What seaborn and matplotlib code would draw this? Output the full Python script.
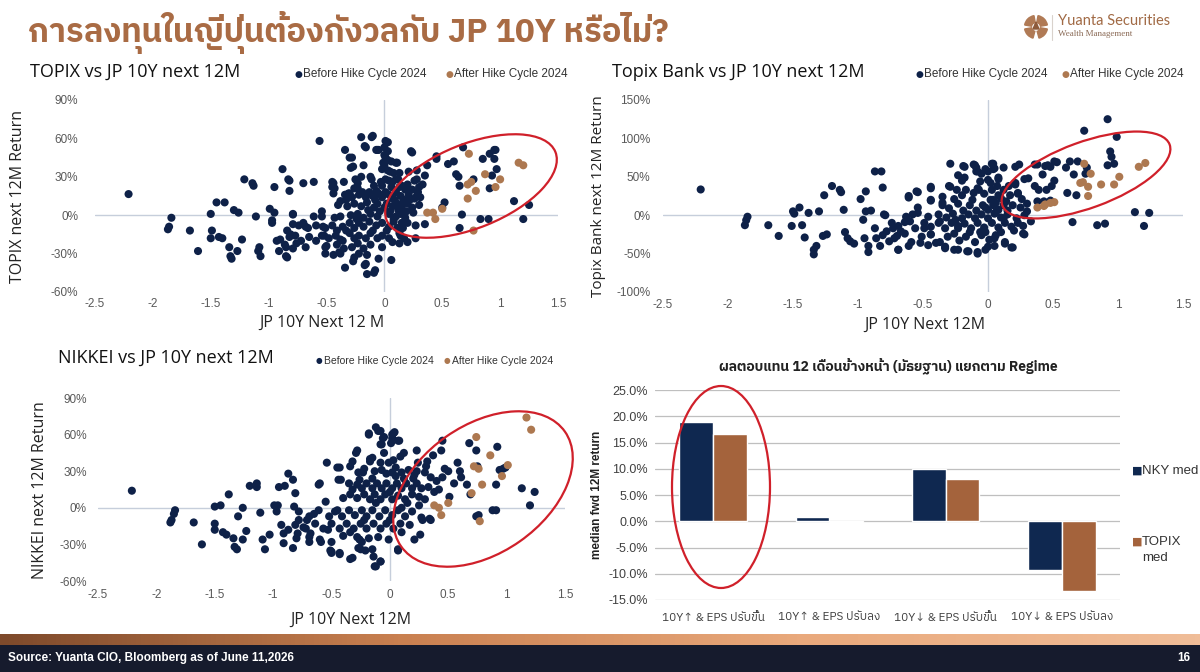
import pandas as pd
import matplotlib
matplotlib.use("Agg")
import matplotlib.pyplot as plt
import seaborn as sns
import numpy as np
from matplotlib import font_manager, ft2font
from matplotlib.patches import Ellipse, Wedge, Polygon

# ---- data (x = change in JP 10Y, y = next 12M return in %) ----
TOPIX_BEFORE = [
    (-2.21, 16.5), (-1.84, -2), (-1.86, -9), (-1.87, -11), (-1.68, -12), (-1.61, -28), (-1.50, 1), (-1.49, -12),
    (-1.50, -18), (-1.45, 10), (-1.38, 10), (-1.43, -17), (-1.40, -18), (-1.34, -25), (-1.33, -32), (-1.32, -34),
    (-1.30, 4), (-1.26, 2), (-1.27, -28), (-1.23, -19), (-1.21, 28), (-1.14, 25), (-1.13, 23), (-1.11, -1),
    (-1.08, -25), (-1.09, -28), (-1.07, -32), (-0.99, 5), (-0.97, -4), (-0.97, -6), (-0.95, 22), (-0.95, 2),
    (-0.93, -20), (-0.91, -28), (-0.90, -19), (-0.88, 36), (-0.85, -32), (-0.86, -23), (-0.83, 28), (-0.82, 19),
    (-0.81, -15), (-0.79, -7), (-0.79, 1), (-0.84, -12), (-0.76, -22), (-0.70, 25), (-0.70, -6), (-0.66, -10),
    (-0.61, 26), (-0.56, 58), (-0.54, 3), (-0.53, -9), (-0.52, -16), (-0.50, -24), (-0.45, 26), (-0.45, 22),
    (-0.44, 17), (-0.43, -2), (-0.39, -29), (-0.38, -19), (-0.35, 26), (-0.34, 51), (-0.34, -41), (-0.31, 17),
    (-0.30, 45), (-0.29, 37), (-0.27, -36), (-0.23, 21), (-0.20, 61), (-0.17, 54), (-0.16, -38), (-0.15, -46),
    (-0.11, 61), (-0.10, 62), (-0.09, -45), (-0.08, -43), (-0.07, 51), (-0.05, 51), (-0.01, 41), (0.01, 58),
    (0.03, 50), (0.06, -35), (0.10, 41), (0.23, 50), (0.28, 35), (0.28, 28), (0.35, 31), (0.37, 39),
    (0.45, 46), (0.45, 44), (0.55, 40), (0.60, 42), (0.62, 32), (0.64, 30), (0.68, 53), (0.65, 23),
    (0.67, 0.5), (0.65, -10), (0.77, 28), (0.85, 44), (0.90, -3), (0.91, 48), (0.95, 51), (0.95, 44),
    (0.96, 51), (0.97, 36), (0.93, 31), (0.91, 21), (1.12, 11), (1.20, -3), (1.25, 8), (0.83, -3),
    (0.52, 10), (0.50, 6), (0.35, -7), (0.27, -18), (0.20, -21), (0.14, -16),
    (-0.16, 53), (-0.06, 51), (0.03, 57), (0.00, 53), (-0.28, 45), (-0.27, 38), (0.00, 47), (0.01, 45),
    (0.03, 43), (0.06, 42), (0.11, 41), (0.24, 49), (-0.18, 39), (0.00, 39), (-0.02, 36), (0.03, 35),
    (0.05, 34), (0.13, 33), (0.21, 34), (-0.82, 27), (-0.44, 25), (-0.43, 21), (-0.25, 28), (-0.23, 25),
    (-0.26, 21), (-0.12, 30), (-0.11, 28), (-0.03, 26), (-0.02, 23), (0.01, 28), (0.04, 27), (0.07, 26),
    (0.10, 28), (0.15, 23), (0.20, 24), (0.26, 27), (0.30, 22), (0.33, 24), (-0.34, 16), (-0.33, 12),
    (-0.30, 17), (-0.28, 14), (-0.22, 16), (-0.19, 18), (-0.16, 14), (-0.13, 18), (-0.10, 15), (-0.07, 19),
    (-0.05, 17), (-0.02, 14), (0.01, 18), (0.04, 16), (0.07, 13), (0.10, 18), (0.14, 15), (0.17, 12),
    (0.21, 16), (0.26, 13), (0.29, 18), (0.31, 14), (-0.40, 8), (-0.38, 11), (-0.32, 7), (-0.26, 9),
    (-0.20, 7), (-0.15, 10), (-0.09, 6), (-0.06, 9), (0.00, 6), (0.02, 9), (0.07, 7), (0.11, 9),
    (0.15, 6), (0.20, 9), (0.24, 6), (-0.79, 0.5), (-0.61, -1), (-0.54, -1), (-0.38, -1), (-0.29, 0),
    (-0.23, 1), (-0.18, -2), (-0.12, 1), (-0.06, -1), (0.04, 1), (0.10, -1), (0.14, 1), (0.18, -2),
    (0.27, -8), (-0.74, -8), (-0.68, -9), (-0.59, -8), (-0.51, -10), (-0.45, -8), (-0.41, -12), (-0.36, -9),
    (-0.30, -6), (-0.26, -10), (-0.22, -6), (-0.18, -9), (-0.13, -5), (-0.07, -8), (-0.02, -6), (0.04, -9),
    (0.08, -5), (0.11, -10), (-0.82, -17), (-0.77, -16), (-0.72, -20), (-0.65, -17), (-0.59, -20), (-0.54, -16),
    (-0.48, -18), (-0.42, -16), (-0.36, -20), (-0.30, -14), (-0.26, -18), (-0.22, -16), (-0.16, -18), (-0.12, -14),
    (-0.06, -18), (-0.02, -16), (0.04, -18), (0.13, -14), (0.17, -18), (-0.85, -25), (-0.79, -26), (-0.68, -25),
    (-0.51, -25), (-0.41, -23), (-0.35, -26), (-0.28, -25), (-0.23, -22), (-0.18, -26), (-0.12, -23), (-0.02, -25),
    (0.07, -21), (0.13, -22), (-0.84, -33), (-0.51, -30), (-0.44, -31), (-0.38, -30), (-0.26, -33), (-0.22, -30),
    (-0.15, -31), (-0.17, -39), (-0.05, -34), (0.12, 4), (0.16, 10), (0.19, 3), (0.22, 12), (0.24, 20),
    (0.18, 20), (0.13, 22), (0.09, 12), (0.05, 3), (0.08, -3), (0.20, -6), (0.25, 2), (0.30, 8),
    (0.28, 15), (0.16, -10), (-0.04, 3), (-0.08, 12), (0.06, 22), (-0.14, 4), (-0.24, -3), (-0.10, -12),
    (0.02, -12), (-0.33, -12), (0.12, 28), (-0.09, 23), (0.08, 33), (-0.20, 30), (0.15, -6),
]
TOPIX_AFTER = [
    (0.37, 2), (0.42, 2), (0.44, -3), (0.50, 5), (0.73, 48), (0.72, 13), (0.72, 24), (0.75, 26),
    (0.77, -12), (0.79, 19), (0.87, 32), (0.96, 22), (1.00, 28), (1.16, 41), (1.20, 39),
]

BANK_BEFORE = [
    (-2.21, 33.5), (-1.85, -2), (-1.86, -6.5), (-1.87, -13), (-1.69, -13), (-1.61, -27), (-1.50, 5), (-1.49, 2),
    (-1.51, -14), (-1.45, 10), (-1.43, -13), (-1.41, -29), (-1.38, 3), (-1.34, -45), (-1.34, -51), (-1.32, -40),
    (-1.30, 5), (-1.27, -27), (-1.24, -25), (-1.26, 26), (-1.20, 38), (-1.14, 33), (-1.13, 30), (-1.11, 7),
    (-1.10, -22), (-1.08, -30), (-1.06, -34), (-1.03, -37), (-0.98, 21), (-0.94, 31), (-0.96, -6), (-0.95, -30),
    (-0.92, -40), (-0.92, -48), (-0.94, 5), (-0.90, 6), (-0.87, -17), (-0.87, 57), (-0.82, 57), (-0.86, -30),
    (-0.83, -40), (-0.81, 36), (-0.80, 1), (-0.78, -21), (-0.76, -34), (-0.73, -17), (-0.70, -27), (-0.69, -45),
    (-0.67, -21), (-0.64, -9), (-0.61, 25), (-0.61, -40), (-0.58, 1), (-0.55, 31), (-0.54, 10), (-0.52, -36),
    (-0.49, -17), (-0.44, 37), (-0.44, 19), (-0.44, -25), (-0.40, -36), (-0.37, -8), (-0.35, 16), (-0.33, -43),
    (-0.30, 38), (-0.29, 67), (-0.26, 21), (-0.26, -45), (-0.23, -14), (-0.20, 45), (-0.19, 64), (-0.16, -47),
    (-0.11, 66), (-0.09, 57), (-0.08, -48), (-0.07, 33), (-0.02, -45), (0.03, 67), (0.04, 60), (0.00, 57),
    (0.05, -40), (0.08, 49), (0.13, -37), (0.19, -42), (0.21, 63), (0.21, 40), (0.23, 28), (0.27, -24),
    (0.30, 5), (0.31, 48), (0.33, -8), (0.36, 66), (0.38, 18), (0.39, 33), (0.42, 53), (0.43, 18),
    (0.46, 65), (0.48, 19), (0.49, 38), (0.51, 70), (0.51, 45), (0.48, 63), (0.60, 62), (0.61, 29),
    (0.63, 70), (0.65, -9), (0.68, 26), (0.66, 53), (0.69, 70), (0.74, 110), (0.84, -13), (0.90, -11),
    (0.92, 125), (0.94, 83), (0.95, 76), (0.92, 65), (0.97, 67), (0.99, 102), (1.13, 4), (1.20, -14),
    (1.24, 3), (0.76, 62), (0.75, 54),
    (-0.18, 63), (-0.10, 65), (-0.09, 62), (-0.08, 57), (-0.02, 60), (0.04, 67), (0.05, 61), (0.12, 62),
    (0.24, 66), (0.38, 66), (0.44, 64), (0.53, 69), (-0.23, 52), (-0.18, 49), (-0.05, 54), (0.00, 46),
    (0.08, 47), (0.16, 38), (0.21, 42), (0.28, 47), (0.36, 38), (0.45, 33), (-0.44, 35), (-0.54, 30),
    (-0.61, 23), (-0.44, 20), (-0.35, 24), (-0.29, 37), (-0.24, 33), (-0.20, 26), (-0.17, 33), (-0.11, 29),
    (-0.08, 35), (-0.03, 28), (0.03, 33), (0.08, 26), (0.12, 33), (0.17, 26), (0.23, 29), (0.26, 21),
    (0.04, 20), (-0.35, 13), (-0.30, 9), (-0.23, 15), (-0.19, 6), (-0.14, 13), (-0.09, 6), (-0.04, 13),
    (0.00, 7), (0.04, 13), (0.08, 7), (0.12, 13), (0.15, 6), (0.19, 13), (-0.79, 0), (-0.63, -2),
    (-0.54, 3), (-0.46, -2), (-0.38, 1), (-0.32, -3), (-0.27, 2), (-0.20, -4), (-0.15, 1), (-0.10, -4),
    (-0.05, 1), (0.00, -4), (0.05, 2), (0.10, -3), (0.15, 1), (0.22, -4), (0.28, 0), (-0.74, -10),
    (-0.69, -14), (-0.60, -8), (-0.56, -17), (-0.49, -10), (-0.44, -15), (-0.38, -10), (-0.33, -17), (-0.28, -10),
    (-0.23, -17), (-0.18, -11), (-0.13, -17), (-0.08, -10), (-0.03, -16), (0.03, -10), (0.08, -16), (0.13, -10),
    (0.18, -15), (0.23, -10), (0.28, -25), (-0.81, -26), (-0.72, -30), (-0.64, -24), (-0.59, -35), (-0.51, -28),
    (-0.44, -25), (-0.37, -35), (-0.31, -28), (-0.26, -24), (-0.22, -33), (-0.17, -28), (-0.10, -35), (-0.05, -26),
    (0.01, -32), (0.06, -26), (0.13, -35), (-0.69, -45), (-0.46, -39), (-0.33, -41), (-0.23, -45), (-0.15, -47),
    (-0.08, -50), (0.00, -41), (0.18, -42), (0.02, 20), (0.06, 16), (0.10, 22), (0.14, 18), (0.07, 38),
    (0.02, 42), (-0.06, 44), (0.10, -22), (-0.02, -22), (0.05, -30), (-0.14, -22), (0.20, -20), (0.25, 10),
    (0.30, 15), (0.27, -14), (-0.12, 20), (-0.02, 10), (0.06, 4), (-0.25, -6), (0.12, -4), (-0.06, -22),
]
BANK_AFTER = [
    (0.38, 10), (0.43, 12), (0.44, 14), (0.48, 16), (0.51, 17), (0.71, 42), (0.73, 43), (0.74, 67),
    (0.77, 25), (0.77, 37), (0.79, 54), (0.87, 40), (0.97, 40), (1.01, 50), (1.16, 63), (1.21, 68),
]

NIKKEI_BEFORE = [
    (-2.21, 14), (-1.84, -2), (-1.85, -5), (-1.87, -10), (-1.88, -12), (-1.68, -12), (-1.61, -30), (-1.50, 1),
    (-1.50, -13), (-1.50, -18), (-1.45, 2), (-1.38, 11), (-1.43, -20), (-1.40, -22), (-1.34, -25), (-1.33, -32),
    (-1.31, -34), (-1.30, -7), (-1.26, 0), (-1.26, -26), (-1.23, -19), (-1.20, 18), (-1.14, 20), (-1.14, 17),
    (-1.11, -4), (-1.09, -26), (-1.07, -34), (-1.03, -22), (-0.99, 2), (-0.97, -3), (-0.96, 2), (-0.95, 17),
    (-0.90, 18), (-0.93, -14), (-0.91, -21), (-0.91, -29), (-0.87, 28), (-0.87, -18), (-0.83, -33), (-0.83, 23),
    (-0.81, 12), (-0.82, 1), (-0.79, -21), (-0.78, -10), (-0.74, -16), (-0.71, -10), (-0.69, -28), (-0.68, -21),
    (-0.65, -5), (-0.61, 19), (-0.59, -28), (-0.54, 37), (-0.55, 5), (-0.53, -18), (-0.51, -35), (-0.50, -37),
    (-0.45, 33), (-0.44, 23), (-0.43, -37), (-0.45, -2), (-0.34, 34), (-0.34, -42), (-0.29, 45), (-0.26, 23),
    (-0.26, -26), (-0.25, -34), (-0.23, 29), (-0.21, -35), (-0.17, 40), (-0.18, 60), (-0.15, 24), (-0.13, -48),
    (-0.12, 66), (-0.10, 63), (-0.08, -44), (-0.08, 52), (-0.06, 57), (0.02, 57), (0.03, 61), (0.08, 55),
    (0.00, 13), (0.07, -35), (0.12, 45), (0.21, -26), (0.21, 27), (0.23, 47), (0.26, -22), (0.28, -10),
    (0.31, 34), (0.35, -10), (0.37, 43), (0.38, 13), (0.44, 47), (0.45, 55), (0.47, 32), (0.51, 9),
    (0.58, 37), (0.61, 25), (0.66, 19), (0.68, 53), (0.74, 47), (0.75, 34), (0.76, -6), (0.74, -7),
    (0.69, 11), (0.88, -2), (0.91, -2), (0.92, 50), (0.91, 19), (0.94, 31), (0.97, 32), (0.99, 33),
    (1.13, 16), (1.20, 2), (1.24, 13),
    (-0.18, 61), (-0.08, 63), (-0.05, 58), (0.02, 60), (0.04, 62), (0.07, 55), (0.01, 53), (-0.07, 52),
    (-0.28, 47), (-0.15, 41), (-0.17, 38), (-0.08, 37), (-0.01, 37), (0.03, 39), (0.09, 42), (0.05, 33),
    (-0.43, 33), (-0.32, 38), (-0.27, 29), (-0.22, 32), (-0.13, 30), (-0.07, 31), (-0.03, 28), (0.02, 29),
    (0.10, 29), (0.16, 31), (0.23, 30), (0.30, 29), (0.24, 37), (0.32, 38), (-0.35, 20), (-0.32, 15),
    (-0.28, 19), (-0.24, 16), (-0.20, 20), (-0.15, 16), (-0.11, 20), (-0.07, 16), (-0.03, 20), (0.02, 16),
    (0.06, 20), (0.10, 16), (0.14, 20), (0.19, 16), (0.23, 20), (0.27, 16), (0.33, 17), (-0.42, 23),
    (-0.60, 20), (-0.40, 8), (-0.34, 11), (-0.28, 8), (-0.22, 11), (-0.17, 7), (-0.13, 11), (-0.08, 7),
    (-0.04, 11), (0.02, 7), (0.07, 10), (0.13, 7), (0.19, 11), (0.25, 9), (0.30, 7), (-0.78, -3),
    (-0.69, -7), (-0.61, -2), (-0.52, -7), (-0.47, -3), (-0.41, -7), (-0.35, -2), (-0.30, -6), (-0.24, -2),
    (-0.20, -7), (-0.15, -2), (-0.09, -7), (-0.04, -2), (0.02, -6), (0.07, -2), (0.13, -7), (0.19, -3),
    (0.27, -8), (0.34, -9), (-0.81, -14), (-0.72, -17), (-0.64, -13), (-0.57, -17), (-0.50, -13), (-0.43, -17),
    (-0.37, -13), (-0.31, -17), (-0.25, -13), (-0.20, -17), (-0.14, -13), (-0.08, -17), (-0.03, -13), (0.03, -17),
    (0.09, -13), (0.17, -14), (-0.80, -25), (-0.69, -24), (-0.60, -26), (-0.50, -28), (-0.40, -23), (-0.28, -24),
    (-0.24, -28), (-0.18, -25), (-0.10, -24), (-0.01, -26), (-0.50, -36), (-0.43, -38), (-0.32, -41), (-0.27, -33),
    (-0.15, -34), (-0.14, -40), (-0.08, -44), (-0.12, -48), (0.07, -34), (0.40, 22), (0.45, 25), (0.50, 30),
    (0.55, 20), (0.60, 30), (0.42, 15), (0.35, 25), (0.20, 24), (0.15, 4), (0.10, 0), (0.12, 24),
    (0.05, 26), (0.25, 2), (-0.12, 4), (-0.22, -10), (0.00, -10), (-0.34, -20), (0.10, -20), (-0.05, 45),
]
NIKKEI_AFTER = [
    (0.38, 2), (0.42, 0), (0.44, -6), (0.50, 4), (0.74, 58), (0.72, 34), (0.76, 32), (0.70, 12),
    (0.77, -11), (0.79, 19), (0.86, 43), (0.96, 26), (1.01, 35), (1.17, 74), (1.21, 64),
]

X_TICKS = [-2.5, -2, -1.5, -1, -0.5, 0, 0.5, 1, 1.5]
X_LABELS = ["-2.5", "-2", "-1.5", "-1", "-0.5", "0", "0.5", "1", "1.5"]

REGIMES = ["10Y↑ & EPS ปรับขึ้น", "10Y↑ & EPS ปรับลง", "10Y↓ & EPS ปรับขึ้น", "10Y↓ & EPS ปรับลง"]
NKY_MED = [19.0, 0.8, 10.0, -9.2]
TOPIX_MED = [16.7, -0.2, 8.1, -13.2]

NAVY = "#0e2148"
BROWN = "#ad7850"
BAR_NAVY = "#0f2850"
BAR_BROWN = "#a4633c"
RED = "#d0202a"
AXIS = "#c6cedb"
TICK = "#595959"
COPPER = "#a96b44"


def thai_family():
    # pick an installed font that actually has Thai glyphs
    hits = []
    for f in font_manager.fontManager.ttflist:
        try:
            if ft2font.FT2Font(f.fname).get_char_index(0x0E01):
                hits.append(f.name)
        except Exception:
            continue
    for name in hits:
        if "Thai" in name:
            return name
    return hits[0] if hits else "DejaVu Sans"


sns.set_theme(style="white")
plt.rcParams["font.family"] = ["Liberation Sans", "DejaVu Sans"]
TH = [thai_family(), "DejaVu Sans"]
NARROW = ["Liberation Sans Narrow", "Liberation Sans", "DejaVu Sans"]
OPEN = ["Open Sans", "DejaVu Sans"]

W, H = 1200, 672
fig = plt.figure(figsize=(12, 6.72), dpi=100, facecolor="white")


def px(x, y):
    return x / W, 1 - y / H


def rect(x0, y0, x1, y1):
    return [x0 / W, 1 - y1 / H, (x1 - x0) / W, (y1 - y0) / H]


def ring(cx, cy, w, h, angle):
    e = Ellipse((cx / 100, (H - cy) / 100), w / 100, h / 100, angle=angle,
                transform=fig.dpi_scale_trans, fill=False, ec=RED, lw=1.6)
    fig.add_artist(e)


def scatter_panel(box, before, after, ylim, yticks, ypad, xpad):
    ax = fig.add_axes(rect(*box))
    df = pd.DataFrame(before + after, columns=["x", "y"])
    df["cycle"] = ["Before"] * len(before) + ["After"] * len(after)
    ax.axhline(0, color=AXIS, lw=1, zorder=1)
    ax.axvline(0, color=AXIS, lw=1, zorder=1)
    sns.scatterplot(data=df, x="x", y="y", hue="cycle", palette={"Before": NAVY, "After": BROWN},
                    s=34, linewidth=0, legend=False, ax=ax, zorder=3)
    ax.set_xlim(-2.5, 1.5)
    ax.set_ylim(*ylim)
    ax.set_xticks(X_TICKS, labels=X_LABELS)
    ax.set_yticks(yticks, labels=[f"{v}%" for v in yticks])
    ax.set_xlabel("")
    ax.set_ylabel("")
    sns.despine(ax=ax, left=True, bottom=True)
    ax.tick_params(axis="y", length=0, labelsize=8.5, colors=TICK, pad=ypad)
    ax.tick_params(axis="x", length=0, labelsize=8.5, colors=TICK, pad=xpad)
    ax.patch.set_alpha(0)
    return ax


def legend_row(y, x1, x2, size):
    for x, label, color in [(x1, "Before Hike Cycle 2024", NAVY), (x2, "After Hike Cycle 2024", BROWN)]:
        fig.text(*px(x, y), "●", color=color, fontsize=size - 2, va="center", ha="center",
                 family=["DejaVu Sans"])
        fig.text(*px(x + 5, y), label, color="#333333", fontsize=size, va="center", ha="left", family=NARROW)


# ---- header ----
fig.text(*px(28, 32), "การลงทุนในญี่ปุ่นต้องกังวลกับ JP 10Y หรือไม่?", fontsize=23.5, fontweight="bold",
         color=COPPER, va="center", ha="left", family=TH)
cx, cy, r = 10.36, (H - 27) / 100, 0.115
for a0, a1 in [(100, 170), (10, 80), (190, 255), (285, 350)]:
    fig.add_artist(Wedge((cx, cy), r, a0, a1, width=0.07, transform=fig.dpi_scale_trans,
                         color="#b07a55"))
fig.add_artist(Polygon([(cx - 0.03, cy - 0.02), (cx + 0.03, cy - 0.02), (cx, cy + 0.05)],
                       transform=fig.dpi_scale_trans, color="#8d5a3a"))
fig.add_artist(plt.Line2D([1052 / W, 1052 / W], [1 - 15 / H, 1 - 40 / H], color="#d9d2cc", lw=0.8))
fig.text(*px(1058, 21), "Yuanta Securities", fontsize=10.5, color="#a16a45", va="center", ha="left",
         family=["Lato", "DejaVu Sans"])
fig.text(*px(1058, 34), "Wealth Management", fontsize=6.5, color="#8b6b57", va="center", ha="left",
         family=["Liberation Serif", "DejaVu Serif"])

# ---- TOPIX ----
scatter_panel((95, 100, 558, 292), TOPIX_BEFORE, TOPIX_AFTER, (-60, 90), [-60, -30, 0, 30, 60, 90], 12, 4)
fig.text(*px(30, 72), "TOPIX vs JP 10Y next 12M", fontsize=13, va="center", ha="left", family=OPEN, color="#111111")
legend_row(74, 298, 449, 8.5)
fig.text(*px(18, 196), "TOPIX next 12M Return", fontsize=11.5, rotation=90, va="center", ha="center",
         family=OPEN, color="#222222")
fig.text(*px(322, 323), "JP 10Y Next 12 M", fontsize=11.5, va="center", ha="center", family=OPEN, color="#222222")
ring(471, 186, 182, 84, 22)

# ---- Topix Bank ----
scatter_panel((663, 100, 1183, 292), BANK_BEFORE, BANK_AFTER, (-100, 150),
              [-100, -50, 0, 50, 100, 150], 9, 5)
fig.text(*px(612, 72), "Topix Bank vs JP 10Y next 12M", fontsize=13, va="center", ha="left", family=OPEN,
         color="#111111")
legend_row(74, 919, 1065, 8.5)
fig.text(*px(598, 196), "Topix Bank next 12M Return", fontsize=11, rotation=90, va="center", ha="center",
         family=OPEN, color="#222222")
fig.text(*px(925, 325), "JP 10Y Next 12M", fontsize=11.5, va="center", ha="center", family=OPEN, color="#222222")
ring(1086, 175, 178, 66, 20)

# ---- NIKKEI ----
scatter_panel((98, 398, 565, 581), NIKKEI_BEFORE, NIKKEI_AFTER, (-60, 90), [-60, -30, 0, 30, 60, 90], 8, 6)
fig.text(*px(58, 358), "NIKKEI vs JP 10Y next 12M", fontsize=13, va="center", ha="left", family=OPEN,
         color="#111111")
legend_row(361, 319, 447, 7.5)
fig.text(*px(40, 490), "NIKKEI next 12M Return", fontsize=11.5, rotation=90, va="center", ha="center",
         family=OPEN, color="#222222")
fig.text(*px(351, 620), "JP 10Y Next 12M", fontsize=11.5, va="center", ha="center", family=OPEN, color="#222222")
ring(483, 489, 200, 128, 35)

# ---- median bars ----
axb = fig.add_axes(rect(655, 390, 1120, 600))
bars = pd.DataFrame({
    "regime": REGIMES * 2,
    "series": ["NKY med"] * len(REGIMES) + ["TOPIX med"] * len(REGIMES),
    "value": NKY_MED + TOPIX_MED,
})
sns.barplot(data=bars, x="regime", y="value", hue="series", order=REGIMES,
            palette=[BAR_NAVY, BAR_BROWN], width=0.58, errorbar=None, legend=False, ax=axb,
            saturation=1, zorder=3)
axb.set_xlim(-0.5, 3.5)
axb.set_ylim(-15, 25)
yt = list(range(-15, 30, 5))
axb.set_yticks(yt, labels=[f"{v:.1f}%" for v in yt])
axb.grid(axis="y", color="#bfbfbf", lw=0.9)
axb.grid(axis="x", visible=False)
axb.set_axisbelow(True)
axb.set_xlabel("")
axb.set_ylabel("")
sns.despine(ax=axb, left=True, bottom=True)
axb.tick_params(axis="y", length=0, labelsize=9, colors="#404040", pad=5)
axb.tick_params(axis="x", length=0, labelsize=8.5, colors="#404040", pad=9)
for lbl in axb.get_xticklabels():
    lbl.set_fontfamily(TH)
fig.text(*px(888, 366), "ผลตอบแทน 12 เดือนข้างหน้า (มัธยฐาน) แยกตาม Regime", fontsize=10, fontweight="bold",
         va="center", ha="center", family=TH, color="#222222")
fig.text(*px(597, 495), "median fwd 12M return", fontsize=8.5, fontweight="bold", rotation=90,
         va="center", ha="center", color="#222222")
fig.text(*px(1132, 471), "■", color=BAR_NAVY, fontsize=8, va="center", ha="left", family=["DejaVu Sans"])
fig.text(*px(1142, 471), "NKY med", color="#333333", fontsize=9.5, va="center", ha="left")
fig.text(*px(1132, 542), "■", color=BAR_BROWN, fontsize=8, va="center", ha="left", family=["DejaVu Sans"])
fig.text(*px(1142, 542), "TOPIX", color="#333333", fontsize=9.5, va="center", ha="left")
fig.text(*px(1142, 558), "med", color="#333333", fontsize=9.5, va="center", ha="left")
ring(721, 487, 98, 202, 0)

# ---- footer ----
band = fig.add_axes(rect(0, 634, 1200, 645))
grad = np.linspace(0, 1, 256).reshape(1, -1)
cmap = matplotlib.colors.LinearSegmentedColormap.from_list("copper_band", ["#7e4a2b", "#c98050", "#e9a97c", "#f0bd98"])
band.imshow(grad, aspect="auto", cmap=cmap)
band.set_axis_off()
foot = fig.add_axes(rect(0, 645, 1200, 672))
foot.set_facecolor("#161b2d")
foot.set_xticks([])
foot.set_yticks([])
for s in foot.spines.values():
    s.set_visible(False)
fig.text(*px(8, 658), "Source: Yuanta CIO, Bloomberg as of June 11,2026", color="white", fontsize=8.5,
         fontweight="bold", va="center", ha="left", family=NARROW)
fig.text(*px(1190, 658), "16", color="white", fontsize=8.5, fontweight="bold", va="center", ha="right",
         family=NARROW)

fig.savefig("out.png", dpi=100, facecolor="white")
